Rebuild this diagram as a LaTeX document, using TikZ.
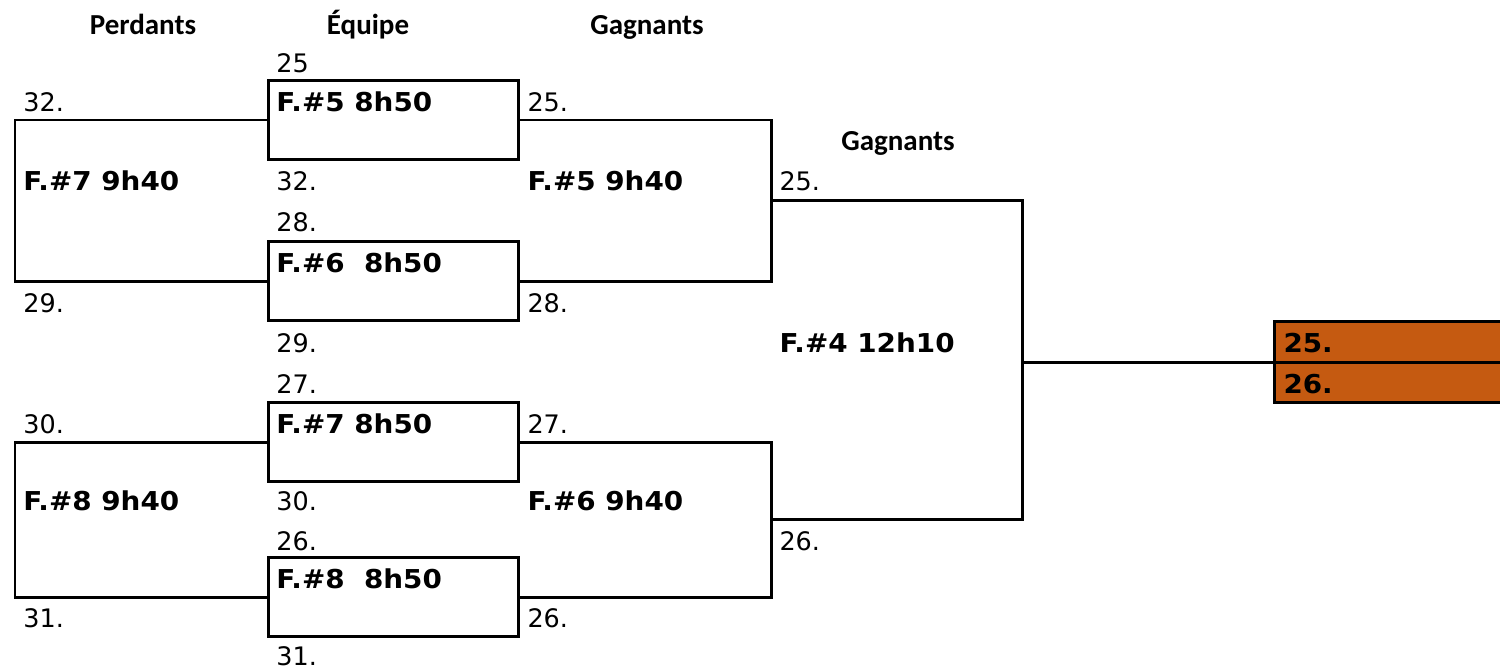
\documentclass[tikz,border=0pt]{standalone}
\usepackage{fontspec}
\setmainfont{DejaVu Sans}
\newfontfamily\headfont{Carlito}
\newfontfamily\matchfont[FakeStretch=1.07]{DejaVu Sans Bold}
\usetikzlibrary{
  positioning,
}
\definecolor{result}{HTML}{C55A11}
% columns of the sheet (x of the texts)
\def\cA{22}
\def\cB{275}
\def\cC{526}
\def\cD{778}
\def\cF{1282}
\tikzset{
  font=\fontsize{14.5}{17}\selectfont,
  my match/.style={
    draw,
    rectangle,
    minimum width=5.02cm,
    minimum height=1.57cm,
    inner sep=0mm
  },
  my result/.style={
    draw,
    fill=result,
    rectangle,
    minimum width=5.02cm,
    minimum height=0.81cm,
    inner sep=0mm
  },
  my text/.style={
    anchor=base west,
    inner sep=0mm
  },
  my bold/.style={
    my text,
    font=\matchfont\fontsize{14.8}{17}\selectfont
  },
  my head/.style={
    anchor=base,
    inner sep=0mm,
    font=\headfont\fontsize{16.5}{20}\selectfont\bfseries
  }
}

\begin{document}
\begin{tikzpicture}[x=0.02cm,y=-0.02cm,line width=1.7pt]
\useasboundingbox (0,0) rectangle (1500,670);
% headers
\node[my head] (hp) at (143,34)  {Perdants};
\node[my head] (he) at (368,34)  {Équipe};
\node[my head] (hg) at (647,34)  {Gagnants};
\node[my head] (hf) at (898,150) {Gagnants};
% first round
\node[my match] (m5) at (393.5,120) {};
\node[my match] (m6) at (393.5,281) {};
\node[my match] (m7) at (393.5,442) {};
\node[my match] (m8) at (393.5,597) {};
\node[my result] (r25) at (1399.5,342) {};
\node[my result] (r26) at (1399.5,382.5) {};
\coordinate (l7) at (15,200);
\coordinate (l8) at (15,520);
\coordinate (w5) at (771,200);
\coordinate (w6) at (771,519);
\coordinate (f4) at (1022,362);
\draw (m5.west) -| (l7) |- (m6.west);
\draw (m7.west) -| (l8) |- (m8.west);
\draw (m5.east) -| (w5) |- (m6.east);
\draw (m7.east) -| (w6) |- (m8.east);
\draw (w5) -| (f4) |- (w6);
\draw (f4) -- (f4 -| r25.west);
% column A
\node[my text] (a1) at (\cA,111) {32.};
\node[my bold] (a2) at (\cA,190) {F.\#7 9h40};
\node[my text] (a3) at (\cA,312) {29.};
\node[my text] (a4) at (\cA,433) {30.};
\node[my bold] (a5) at (\cA,510) {F.\#8 9h40};
\node[my text] (a6) at (\cA,627) {31.};
% column B
\node[my text] (b1)  at (\cB,72)  {25};
\node[my bold] (b2)  at (\cB,111) {F.\#5 8h50};
\node[my text] (b3)  at (\cB,190) {32.};
\node[my text] (b4)  at (\cB,231) {28.};
\node[my bold] (b5)  at (\cB,272) {F.\#6~~8h50};
\node[my text] (b6)  at (\cB,352) {29.};
\node[my text] (b7)  at (\cB,393) {27.};
\node[my bold] (b8)  at (\cB,433) {F.\#7 8h50};
\node[my text] (b9)  at (\cB,510) {30.};
\node[my text] (b10) at (\cB,550) {26.};
\node[my bold] (b11) at (\cB,588) {F.\#8~~8h50};
\node[my text] (b12) at (\cB,665) {31.};
% column C
\node[my text] (c1) at (\cC,111) {25.};
\node[my bold] (c2) at (\cC,190) {F.\#5 9h40};
\node[my text] (c3) at (\cC,312) {28.};
\node[my text] (c4) at (\cC,433) {27.};
\node[my bold] (c5) at (\cC,510) {F.\#6 9h40};
\node[my text] (c6) at (\cC,627) {26.};
% column D
\node[my text] (d1) at (\cD,190) {25.};
\node[my bold] (d2) at (\cD,352) {F.\#4 12h10};
\node[my text] (d3) at (\cD,550) {26.};
% result
\node[my bold] (f1) at (\cF,352) {25.};
\node[my bold] (f2) at (\cF,393) {26.};
\end{tikzpicture}
\end{document}
